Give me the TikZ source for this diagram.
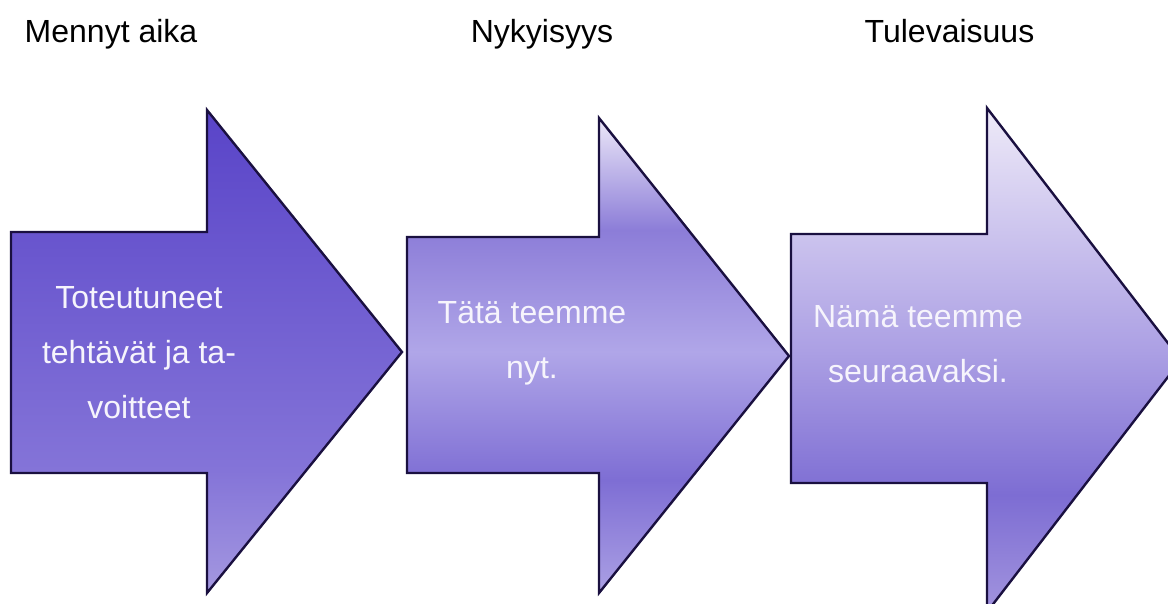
\documentclass[tikz,border=0pt]{standalone}
\usepackage{fontspec}
\setmainfont{Liberation Sans}
\usepackage{xcolor}

\definecolor{arrowline}{HTML}{1A1040}
\definecolor{labeltext}{HTML}{F6F4FC}
\definecolor{pastA}{HTML}{5944C8}
\definecolor{pastB}{HTML}{8474D8}
\definecolor{pastC}{HTML}{A498E0}
\definecolor{nowA}{HTML}{ECE8F8}
\definecolor{nowB}{HTML}{8C7DD8}
\definecolor{nowC}{HTML}{B0A6E8}
\definecolor{nowD}{HTML}{7E6ED4}
\definecolor{nowE}{HTML}{ABA0E4}
\definecolor{nextA}{HTML}{EEEAF8}
\definecolor{nextB}{HTML}{ACA0E4}
\definecolor{nextC}{HTML}{7D6DD3}
\definecolor{nextD}{HTML}{A294DE}

\pgfdeclareverticalshading{pastshade}{100bp}{color(0bp)=(pastC); color(25bp)=(pastC); color(37.7bp)=(pastB); color(75bp)=(pastA); color(100bp)=(pastA)}
\pgfdeclareverticalshading{nowshade}{100bp}{color(0bp)=(nowE); color(25bp)=(nowE); color(36.9bp)=(nowD); color(50.4bp)=(nowC); color(63.2bp)=(nowB); color(75bp)=(nowA); color(100bp)=(nowA)}
\pgfdeclareverticalshading{nextshade}{100bp}{color(0bp)=(nextD); color(25bp)=(nextD); color(36.6bp)=(nextC); color(51bp)=(nextB); color(75bp)=(nextA); color(100bp)=(nextA)}

\begin{document}
\begin{tikzpicture}[x=1pt,y=-1pt,
    stagearrow/.style={draw=arrowline, line width=2.4pt, line join=miter},
    stagetext/.style={text=labeltext, font=\fontsize{32}{55}\selectfont, align=center, inner sep=0pt},
    stagetitle/.style={font=\fontsize{32}{38}\selectfont, inner sep=0pt, anchor=base}]
    \useasboundingbox (0,0) rectangle (1168,603);
    \clip (0,0) rectangle (1168,603);
    % the three arrows
    \path[stagearrow, shading=pastshade] (11,232) -- (207,232) -- (207,110) -- (402,352) -- (207,593) -- (207,473) -- (11,473) -- cycle;
    \path[stagearrow, shading=nowshade] (407,237) -- (599,237) -- (599,118) -- (789,356) -- (599,593) -- (599,473) -- (407,473) -- cycle;
    \path[stagearrow, shading=nextshade] (791,234) -- (987,234) -- (987,108) -- (1181,360) -- (987,612) -- (987,483) -- (791,483) -- cycle;
    % texts in the arrows
    \node[stagetext] (past) at (139,353) {Toteutuneet\\tehtävät ja ta-\\voitteet};
    \node[stagetext] (now) at (532,343) {Tätä teemme\\nyt.};
    \node[stagetext] (next) at (918,344) {Nämä teemme\\seuraavaksi.};
    % titles
    \node[stagetitle] (pasttitle) at (111,42) {Mennyt aika};
    \node[stagetitle] (nowtitle) at (542,42) {Nykyisyys};
    \node[stagetitle] (nexttitle) at (949.5,42) {Tulevaisuus};
\end{tikzpicture}
\end{document}
